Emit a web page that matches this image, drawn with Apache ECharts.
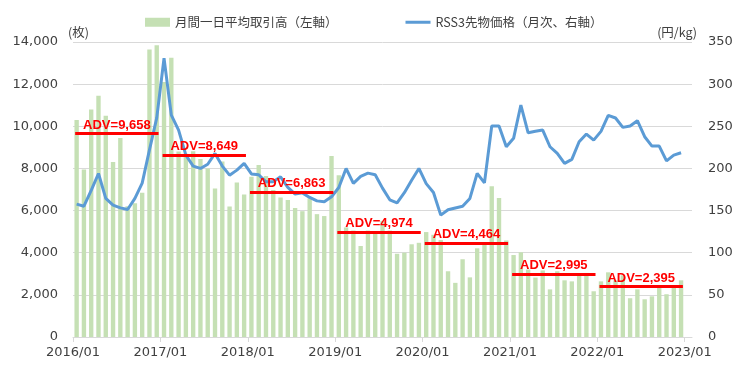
<!DOCTYPE html>
<html>
<head>
<meta charset="utf-8">
<script src="https://cdn.jsdelivr.net/npm/echarts@6/dist/echarts.min.js"></script>
<style>
  html, body { margin: 0; padding: 0; background: #fff; }
  #chart { width: 745px; height: 378px; }
</style>
</head>
<body>
<div id="chart"></div>
<script>
// 月間一日平均取引高（枚） 2016/01 - 2022/12
var volume = [
  10300, 7950, 10800, 11450, 10500, 8300, 9450, 6200, 6350, 6850, 13650, 13850,
  12100, 13250, 8800, 8700, 8820, 8450, 8000, 7050, 8330, 6190, 7330, 6760,
  7610, 8160, 7640, 6980, 6620, 6500, 6120, 5970, 6580, 5830, 5740, 8590,
  7680, 5200, 5050, 4320, 5050, 5000, 5510, 5050, 3950, 4000, 4400, 4470,
  4980, 4850, 4600, 3120, 2570, 3690, 2830, 4210, 4400, 7150, 6600, 4580,
  3890, 4020, 3200, 2820, 3160, 2260, 3120, 2690, 2640, 2960, 3040, 2170,
  2640, 3070, 2690, 2930, 1840, 2260, 1790, 1930, 2370, 2030, 2370, 2690
];
// RSS3先物価格（円/kg）
var price = [
  157.6, 155.2, 174, 194, 164.4, 156.4, 153.2, 151.3, 164.4, 182.5, 222, 260,
  330.7, 263.3, 245.5, 215.8, 202.8, 200, 205, 217.8, 202.8, 192, 198, 206,
  193.5, 192.5, 184.1, 184.1, 190, 177.4, 169.5, 171, 165.6, 161.5, 160.4, 166.3,
  177.4, 200, 182.2, 190.5, 194.4, 192.6, 176.6, 162.8, 159.2, 171.2, 186, 200,
  182, 171.5, 144.6, 150.9, 153.1, 155.2, 164.4, 194.1, 182.9, 250.3, 250.3, 225.7,
  235.7, 275.2, 242.3, 244, 245.5, 225.7, 217.8, 206, 210.7, 231.6, 240.8, 233.6,
  244, 263, 259.8, 248.7, 250.3, 256.6, 237.6, 226.5, 226.5, 209, 215.8, 218.6
];
// 年間平均 (ADV)
var advValues = [9658, 8649, 6863, 4974, 4464, 2995, 2395];
var yearLabels = ["2016/01", "2017/01", "2018/01", "2019/01", "2020/01", "2021/01", "2022/01", "2023/01"];

// month categories (one extra slot for 2023/01)
var months = [];
for (var y = 2016; y <= 2023; y++) {
  for (var m = 1; m <= 12; m++) {
    if (y === 2023 && m > 1) break;
    months.push(y + "/" + (m < 10 ? "0" + m : m));
  }
}

var fmt = function (v) { return v.toLocaleString("en-US"); };
var font = "DejaVu Sans";
var labelColor = "#404040";
var gridColor = "#d9d9d9";

var advLines = advValues.map(function (v, i) {
  return [
    { coord: [i * 12 + 0.3, v], label: { formatter: "ADV=" + fmt(v) } },
    { coord: [i * 12 + 11.75, v] }
  ];
});
var yearTicks = yearLabels.map(function (s, i) { return i * 12; });

var myChart = echarts.init(document.getElementById("chart"));
myChart.setOption({
  animation: false,
  legend: {
    data: [
      { name: "月間一日平均取引高（左軸）", icon: "rect" },
      { name: "RSS3先物価格（月次、右軸）", icon: "path://M0,0H25V3H0Z" }
    ],
    left: 140,
    top: 11,
    itemGap: 68,
    itemWidth: 25,
    itemHeight: 9,
    textStyle: { fontFamily: "Noto Sans CJK JP", fontSize: 12.5, color: labelColor }
  },
  grid: { left: 73, right: 53, top: 42, bottom: 41 },
  xAxis: [
    { type: "category", data: months, show: false },
    {
      type: "value",
      min: 0,
      max: months.length,
      position: "bottom",
      splitLine: { show: false },
      axisLine: { show: true, lineStyle: { color: gridColor } },
      axisTick: {
        show: true,
        length: 5,
        lineStyle: { color: gridColor },
        customValues: yearTicks
      },
      axisLabel: {
        customValues: yearTicks,
        formatter: function (v) { return yearLabels[Math.round(v / 12)]; },
        color: labelColor,
        fontFamily: font,
        fontSize: 13,
        margin: 9
      }
    }
  ],
  yAxis: [
    {
      type: "value",
      min: 0,
      max: 14000,
      interval: 2000,
      name: "(枚)",
      nameLocation: "end",
      nameGap: 3,
      nameTextStyle: { fontFamily: "Noto Sans CJK JP", fontSize: 12.5, color: labelColor, align: "left", padding: [0, 0, 0, -5] },
      axisLine: { show: false },
      axisTick: { show: false },
      splitLine: { lineStyle: { color: gridColor } },
      axisLabel: { formatter: fmt, color: labelColor, fontFamily: font, fontSize: 13, margin: 15 }
    },
    {
      type: "value",
      min: 0,
      max: 350,
      interval: 50,
      name: "(円/kg)",
      nameLocation: "end",
      nameGap: 3,
      nameTextStyle: { fontFamily: "Noto Sans CJK JP", fontSize: 12.5, color: labelColor, align: "right", padding: [0, -5, 0, 0] },
      axisLine: { show: false },
      axisTick: { show: false },
      splitLine: { show: false },
      axisLabel: { color: labelColor, fontFamily: font, fontSize: 13, margin: 16 }
    }
  ],
  series: [
    {
      name: "月間一日平均取引高（左軸）",
      type: "bar",
      xAxisIndex: 0,
      yAxisIndex: 0,
      barCategoryGap: "40%",
      itemStyle: { color: "#c5e0b4" },
      data: volume
    },
    {
      name: "RSS3先物価格（月次、右軸）",
      type: "line",
      xAxisIndex: 0,
      yAxisIndex: 1,
      symbol: "none",
      z: 3,
      lineStyle: { color: "#5b9bd5", width: 3 },
      itemStyle: { color: "#5b9bd5" },
      data: price
    },
    {
      name: "ADV",
      type: "line",
      xAxisIndex: 1,
      yAxisIndex: 0,
      data: [],
      z: 4,
      markLine: {
        silent: true,
        symbol: ["none", "none"],
        lineStyle: { color: "#ff0000", width: 3, type: "solid" },
        label: {
          show: true,
          position: "insideMiddleTop",
          distance: 2,
          color: "#ff0000",
          fontFamily: "Liberation Sans",
          fontWeight: "bold",
          fontSize: 13
        },
        data: advLines
      }
    }
  ]
});
</script>
</body>
</html>
